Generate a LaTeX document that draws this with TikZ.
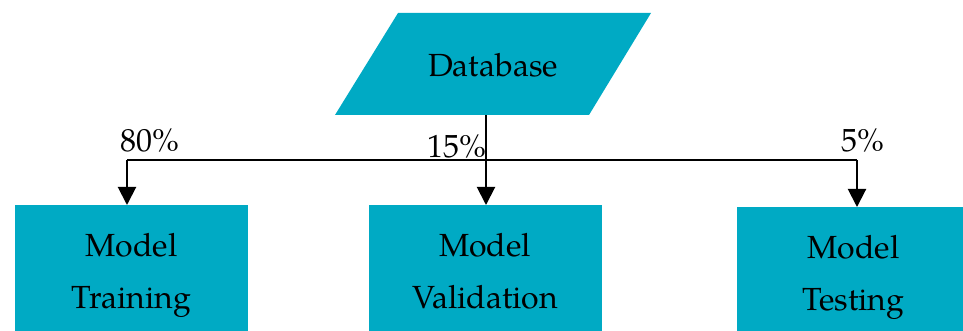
\documentclass[tikz,border=0pt]{standalone}
\usepackage{fontspec}
\setmainfont{TeX Gyre Pagella}
\usetikzlibrary{arrows.meta}
\definecolor{boxteal}{RGB}{0,170,196}
\begin{document}
\begin{tikzpicture}[x=0.5pt,y=-0.5pt,
  every node/.style={font=\fontsize{16}{26}\selectfont, inner sep=0pt},
  stage/.style={fill=boxteal, minimum width=116.5pt, minimum height=66pt,
                anchor=north},
  caption/.style={align=center, anchor=base},
  link/.style={line width=1pt},
  arrowlink/.style={link, -{Triangle[width=9pt,length=9pt]}},
  share/.style={anchor=base}]
  \useasboundingbox (0,0) rectangle (963,331);
  \clip (0,0) rectangle (963,331);

  % data source drawn as a parallelogram
  \fill[boxteal] (398,13) -- (651,13) -- (589,115) -- (335,115) -- cycle;
  \node[minimum width=126pt, minimum height=51pt] (db) at (493,64) {};
  \node[anchor=base] (dbtext) at (493,77) {Database};

  % the three subsets (caption anchored on the baseline of its last line)
  \node[stage] (train) at (131.5,205) {};
  \node[stage] (val)   at (485,205)   {};
  \node[stage] (test)  at (853.5,207) {};
  \node[caption] (traintext) at (131.5,308) {Model\\Training};
  \node[caption] (valtext)   at (485,308)   {Model\\Validation};
  \node[caption] (testtext)  at (853.5,310) {Model\\Testing};

  % split point and branches
  \coordinate (split) at (486,160);
  \draw[link] (db.south -| split) -- (split);
  \draw[link] (split) -- (split -| 127,0) coordinate (lft);
  \draw[link] (split) -- (split -| 857,0) coordinate (rgt);
  \draw[arrowlink] (lft) -- (lft |- train.north);
  \draw[arrowlink] (split) -- (split |- val.north);
  \draw[arrowlink] (rgt) -- (rgt |- test.north);

  % shares of the data
  \node[share] (p80) at (150,152) {80\%};
  \node[share] (p15) at (457,158) {15\%};
  \node[share] (p5)  at (863,152) {5\%};
\end{tikzpicture}
\end{document}
